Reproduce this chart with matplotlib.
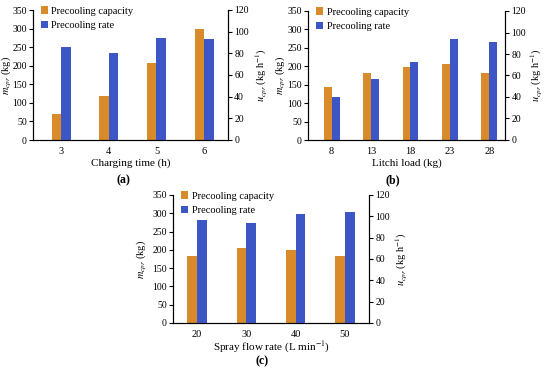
import numpy as np
import matplotlib
matplotlib.use('Agg')
import matplotlib.pyplot as plt

plt.rcParams['font.family'] = ['Liberation Serif', 'DejaVu Serif']
plt.rcParams['mathtext.fontset'] = 'stix'

# data
time_labels = ['3', '4', '5', '6']
time_capacity = [69, 119, 206, 298]
time_rate = [86, 80, 94, 93]

load_labels = ['8', '13', '18', '23', '28']
load_capacity = [144, 182, 198, 207, 182]
load_rate = [40, 57, 73, 94, 91]

flow_labels = ['20', '30', '40', '50']
flow_capacity = [184, 206, 199, 184]
flow_rate = [97, 94, 102, 104]

cap_color = '#D98A2A'
rate_color = '#3D56C5'
W, H = 550, 371
fs = 7.5


def panel(rect, labels, cap, rate, xlabel, tag, xlim, lab_x, tag_xy):
    x0, y0, x1, y1 = rect
    w, h = x1 - x0, y1 - y0
    ax = fig.add_axes([x0 / W, 1 - y1 / H, w / W, h / H])
    ax2 = ax.twinx()
    x = np.arange(len(labels))
    bw = 0.2
    b1 = ax.bar(x - bw / 2, cap, bw, color=cap_color)
    b2 = ax2.bar(x + bw / 2, rate, bw, color=rate_color)
    ax.set_ylim(0, 350)
    ax.set_yticks(range(0, 351, 50))
    ax2.set_ylim(0, 120)
    ax2.set_yticks(range(0, 121, 20))
    ax.set_xlim(*xlim)
    ax.set_xticks(x)
    ax.set_xticklabels(labels)
    ax.tick_params(axis='x', length=0, labelsize=fs, pad=5)
    ax.tick_params(axis='y', labelsize=fs - 0.5, length=3, width=0.8, pad=1.5)
    ax2.tick_params(axis='y', labelsize=fs - 0.5, length=3, width=0.8, pad=1.5)
    for a in (ax, ax2):
        a.spines['top'].set_visible(False)
        for s in ('left', 'right', 'bottom'):
            a.spines[s].set_linewidth(0.8)
    ax.set_ylabel(r'$m_{cpr}$ (kg)', fontsize=fs)
    ax2.set_ylabel(r'$u_{cpr}$ (kg h$^{-1}$)', fontsize=fs)
    # label centres given in pixels
    ax.yaxis.set_label_coords((lab_x[0] + 4 - x0) / w, 0.5)
    ax2.yaxis.set_label_coords((lab_x[1] - 5 - x0) / w, 0.5)
    ax.set_xlabel(xlabel, fontsize=fs + 0.5)
    ax.xaxis.set_label_coords(0.5, (y1 - lab_x[2] + 5) / h)
    ax.legend([b1, b2], ['Precooling capacity', 'Precooling rate'],
              loc='upper left', bbox_to_anchor=(0.02, 1.06), frameon=False,
              fontsize=fs, handlelength=0.7, handleheight=0.7,
              handletextpad=0.3, labelspacing=0.5, borderaxespad=0)
    ax.text((tag_xy[0] - x0) / w, (y1 - tag_xy[1]) / h, tag,
            transform=ax.transAxes, ha='center', va='center',
            fontsize=fs + 1, fontweight='bold')
    return ax


fig = plt.figure(figsize=(W / 100, H / 100), dpi=100)
panel((33, 10, 228, 140), time_labels, time_capacity, time_rate,
      'Charging time (h)', '(a)', (-0.59, 3.5), (9, 258, 163), (123, 180))
panel((308, 11, 505, 140), load_labels, load_capacity, load_rate,
      'Litchi load (kg)', '(b)', (-0.6, 4.4), (283, 533, 163), (393, 180))
panel((173, 195, 369, 323), flow_labels, flow_capacity, flow_rate,
      'Spray flow rate (L min$^{-1}$)', '(c)', (-0.49, 3.49),
      (144, 398, 345), (262, 361))

fig.savefig('out.png', dpi=100)
